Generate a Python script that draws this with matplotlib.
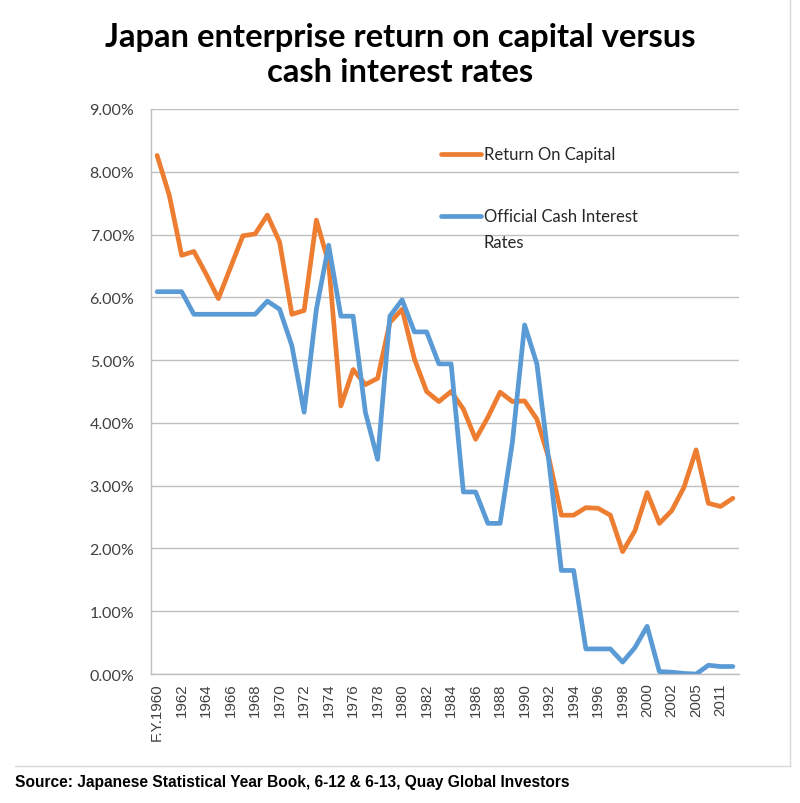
import matplotlib
matplotlib.use('Agg')
from matplotlib import pyplot as plt
import matplotlib.ticker as ticker
from matplotlib.lines import Line2D

years = ['F.Y.1960', '1961', '1962', '1963', '1964', '1965', '1966', '1967', '1968', '1969',
         '1970', '1971', '1972', '1973', '1974', '1975', '1976', '1977', '1978', '1979',
         '1980', '1981', '1982', '1983', '1984', '1985', '1986', '1987', '1988', '1989',
         '1990', '1991', '1992', '1993', '1994', '1995', '1996', '1997', '1998', '1999',
         '2000', '2001', '2002', '2003', '2005', '2008', '2011', '2012']

# percent values
roc = [8.26, 7.62, 6.67, 6.73, 6.37, 5.98, 6.48, 6.98, 7.01, 7.31,
       6.88, 5.73, 5.79, 7.23, 6.55, 4.27, 4.85, 4.61, 4.71, 5.60,
       5.81, 5.02, 4.50, 4.34, 4.50, 4.22, 3.74, 4.09, 4.49, 4.34,
       4.35, 4.06, 3.42, 2.53, 2.53, 2.65, 2.64, 2.53, 1.95, 2.28,
       2.89, 2.40, 2.60, 2.97, 3.57, 2.72, 2.67, 2.80]
cash = [6.09, 6.09, 6.09, 5.73, 5.73, 5.73, 5.73, 5.73, 5.73, 5.94,
        5.81, 5.23, 4.17, 5.81, 6.83, 5.70, 5.70, 4.17, 3.42, 5.70,
        5.96, 5.45, 5.45, 4.94, 4.94, 2.90, 2.90, 2.40, 2.40, 3.69,
        5.56, 4.94, 3.35, 1.65, 1.65, 0.40, 0.40, 0.40, 0.19, 0.42,
        0.76, 0.04, 0.03, 0.01, 0.00, 0.14, 0.12, 0.12]

title_lines = ['Japan enterprise return on capital versus', 'cash interest rates']

x = list(range(len(years)))
roc_f = [v / 100 for v in roc]
cash_f = [v / 100 for v in cash]

fig = plt.figure(figsize=(8, 8.04), dpi=100)
ax = fig.add_axes([0.18875, 0.1604, 0.735, 0.7028])

ax.plot(x, roc_f, color='#ED7D31', lw=3.4, solid_joinstyle='round', solid_capstyle='round', zorder=3)
ax.plot(x, cash_f, color='#5B9BD5', lw=3.4, solid_joinstyle='round', solid_capstyle='round', zorder=3)

ax.set_xlim(-0.5, len(years) - 0.5)
ax.set_ylim(0, 0.09)
ax.yaxis.set_major_locator(ticker.MultipleLocator(0.01))
ax.yaxis.set_major_formatter(ticker.FuncFormatter(lambda v, p: '%.2f%%' % (v * 100)))
ax.grid(axis='y', color='#BFBFBF', lw=1)
ax.set_axisbelow(True)

ax.set_xticks(x[::2])
ax.set_xticklabels(years[::2], rotation=90, fontsize=10.8, color='#404040',
                   family='Liberation Sans')
for t in ax.get_yticklabels():
    t.set_family('Lato')
    t.set_fontsize(11.5)
    t.set_color('#404040')
ax.tick_params(axis='x', length=0, pad=6)
ax.tick_params(axis='y', length=0, pad=12)

for s in ['top', 'right']:
    ax.spines[s].set_visible(False)
for s in ['left', 'bottom']:
    ax.spines[s].set_color('#BFBFBF')
    ax.spines[s].set_linewidth(1)

# legend inside plot area
ax.add_line(Line2D([0.493, 0.561], [0.920, 0.920], transform=ax.transAxes,
                   color='#ED7D31', lw=3.4, solid_capstyle='round'))
ax.text(0.566, 0.920, 'Return On Capital', transform=ax.transAxes, va='center',
        ha='left', fontsize=12, family='Lato', color='#262626')
ax.add_line(Line2D([0.493, 0.561], [0.8106, 0.8106], transform=ax.transAxes,
                   color='#5B9BD5', lw=3.4, solid_capstyle='round'))
ax.text(0.566, 0.825, 'Official Cash Interest\nRates', transform=ax.transAxes, va='top',
        ha='left', fontsize=12, family='Lato', color='#262626', linespacing=1.75)

fig.text(0.5, 1 - 38 / 804, title_lines[0], ha='center', va='center',
         fontsize=23.6, fontweight='bold', family='Lato')
fig.text(0.5, 1 - 72 / 804, title_lines[1], ha='center', va='center',
         fontsize=23.6, fontweight='bold', family='Lato')

fig.text(15 / 800, 1 - 783 / 804, 'Source: Japanese Statistical Year Book, 6-12 & 6-13, Quay Global Investors',
         ha='left', va='center', fontsize=11.2, fontweight='bold', family='Liberation Sans')

# chart frame edges
fig.add_artist(Line2D([15 / 800, 790 / 800], [1 - 767 / 804, 1 - 767 / 804], color='#D9D9D9', lw=1))
fig.add_artist(Line2D([790 / 800, 790 / 800], [1 - 767 / 804, 1.0], color='#D9D9D9', lw=1))

plt.savefig('out.png', dpi=100)
